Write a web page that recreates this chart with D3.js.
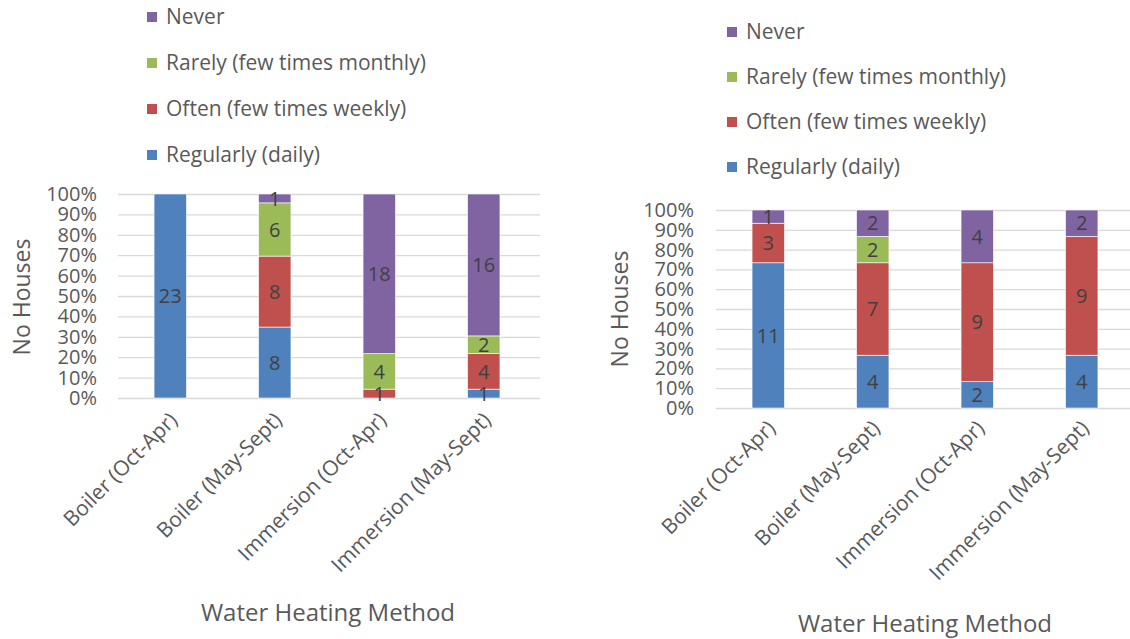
<!DOCTYPE html>
<html>
<head>
<meta charset="utf-8">
<title>Water heating stacked percentage bars</title>
<script src="https://d3js.org/d3.v7.min.js"></script>
<style>
  body { margin: 0; background: #fff; }
  text { font-family: "Open Sans", sans-serif; }
</style>
</head>
<body>
<script>

// categories and series
var categories = ["Boiler (Oct-Apr)", "Boiler (May-Sept)", "Immersion (Oct-Apr)", "Immersion (May-Sept)"];
var seriesNames = ["Regularly (daily)", "Often (few times weekly)", "Rarely (few times monthly)", "Never"];
var seriesColors = ["#4F81BD", "#C0504D", "#9BBB59", "#8064A2"];
var yTicks = [0, 0.1, 0.2, 0.3, 0.4, 0.5, 0.6, 0.7, 0.8, 0.9, 1];

// left chart counts
var leftRegularly = [23, 8, 0, 1];
var leftOften     = [0, 8, 1, 4];
var leftRarely    = [0, 6, 4, 2];
var leftNever     = [0, 1, 18, 16];

// right chart counts
var rightRegularly = [11, 4, 2, 4];
var rightOften     = [3, 7, 9, 9];
var rightRarely    = [0, 2, 0, 0];
var rightNever     = [1, 2, 4, 2];

var W = 1130, H = 639;
var svg = d3.select("body").append("svg")
    .attr("width", W)
    .attr("height", H);

function drawChart(cfg) {
    var series = [cfg.regularly, cfg.often, cfg.rarely, cfg.never];
    var rows = categories.map(function(c, i) {
        var r = { cat: c };
        seriesNames.forEach(function(s, j) { r[s] = series[j][i]; });
        return r;
    });

    var layers = d3.stack().keys(seriesNames).offset(d3.stackOffsetExpand)(rows);

    var x = d3.scaleBand().domain(categories).range([cfg.x0, cfg.x1]);
    var y = d3.scaleLinear().domain([0, 1]).range([cfg.yBottom, cfg.yTop]);

    var g = svg.append("g");

    // gridlines + tick labels
    g.append("g")
        .attr("transform", "translate(" + cfg.x0 + ",0)")
        .call(d3.axisLeft(y).tickValues(yTicks).tickSize(-(cfg.gridEnd - cfg.x0)).tickFormat(d3.format(".0%")))
        .call(function(a) {
            a.select(".domain").remove();
            a.selectAll(".tick line").attr("stroke", "#D9D9D9").attr("stroke-width", 1.3);
            a.selectAll(".tick text")
                .attr("x", cfg.labelRight - cfg.x0)
                .attr("fill", "#595959")
                .style("font-size", "20px");
        });

    var bw = x.bandwidth() * 0.31;

    g.selectAll(".layer")
        .data(layers)
        .enter().append("g")
        .attr("fill", function(d, i) { return seriesColors[i]; })
        .selectAll("rect")
        .data(function(d) { return d; })
        .enter().append("rect")
        .attr("x", function(d) { return x(d.data.cat) + (x.bandwidth() - bw) / 2; })
        .attr("width", bw)
        .attr("y", function(d) { return y(d[1]); })
        .attr("height", function(d) { return y(d[0]) - y(d[1]); })
        .attr("stroke", "#fff")
        .attr("stroke-width", 0.6);

    // data labels
    layers.forEach(function(layer) {
        layer.forEach(function(d) {
            var v = d.data[layer.key];
            if (!v) return;
            g.append("text")
                .attr("x", x(d.data.cat) + x.bandwidth() / 2)
                .attr("y", y((d[0] + d[1]) / 2))
                .attr("dy", "0.36em")
                .attr("text-anchor", "middle")
                .attr("fill", "#404040")
                .style("font-size", "20px")
                .text(v);
        });
    });

    // category labels, rotated
    categories.forEach(function(c) {
        var cx = x(c) + x.bandwidth() / 2 - 2;
        g.append("text")
            .attr("transform", "translate(" + cx + "," + (cfg.yBottom + cfg.catDy) + ") rotate(-45)")
            .attr("text-anchor", "end")
            .attr("dy", "0.7em")
            .attr("fill", "#595959")
            .style("font-size", "21px")
            .text(c);
    });

    // axis titles
    g.append("text")
        .attr("transform", "translate(" + cfg.yTitleX + "," + cfg.yTitleY + ") rotate(-90)")
        .attr("text-anchor", "middle")
        .attr("dy", "0.35em")
        .attr("fill", "#595959")
        .style("font-size", "23px")
        .text("No Houses");

    g.append("text")
        .attr("x", cfg.xTitleX)
        .attr("y", cfg.xTitleY)
        .attr("text-anchor", "middle")
        .attr("dy", "0.35em")
        .attr("fill", "#595959")
        .style("font-size", "24px")
        .text("Water Heating Method");

    // legend, top to bottom: Never, Rarely, Often, Regularly
    [3, 2, 1, 0].forEach(function(si, k) {
        var ly = cfg.legendY + k * cfg.legendStep;
        g.append("rect")
            .attr("x", cfg.legendX)
            .attr("y", ly - 5)
            .attr("width", 10)
            .attr("height", 10)
            .attr("fill", seriesColors[si]);
        g.append("text")
            .attr("x", cfg.legendX + 19)
            .attr("y", ly)
            .attr("dy", "0.35em")
            .attr("fill", "#595959")
            .style("font-size", "21px")
            .text(seriesNames[si]);
    });
}

drawChart({
    regularly: leftRegularly, often: leftOften, rarely: leftRarely, never: leftNever,
    x0: 118, x1: 536, gridEnd: 540, yTop: 194, yBottom: 398, labelRight: 97,
    catDy: 13, yTitleX: 22, yTitleY: 297, xTitleX: 328, xTitleY: 613,
    legendX: 147, legendY: 17, legendStep: 46
});

drawChart({
    regularly: rightRegularly, often: rightOften, rarely: rightRarely, never: rightNever,
    x0: 716, x1: 1134, gridEnd: 1130, yTop: 210, yBottom: 408, labelRight: 694,
    catDy: 11, yTitleX: 620, yTitleY: 309, xTitleX: 925, xTitleY: 624,
    legendX: 727, legendY: 32, legendStep: 45
});

</script>
</body>
</html>
